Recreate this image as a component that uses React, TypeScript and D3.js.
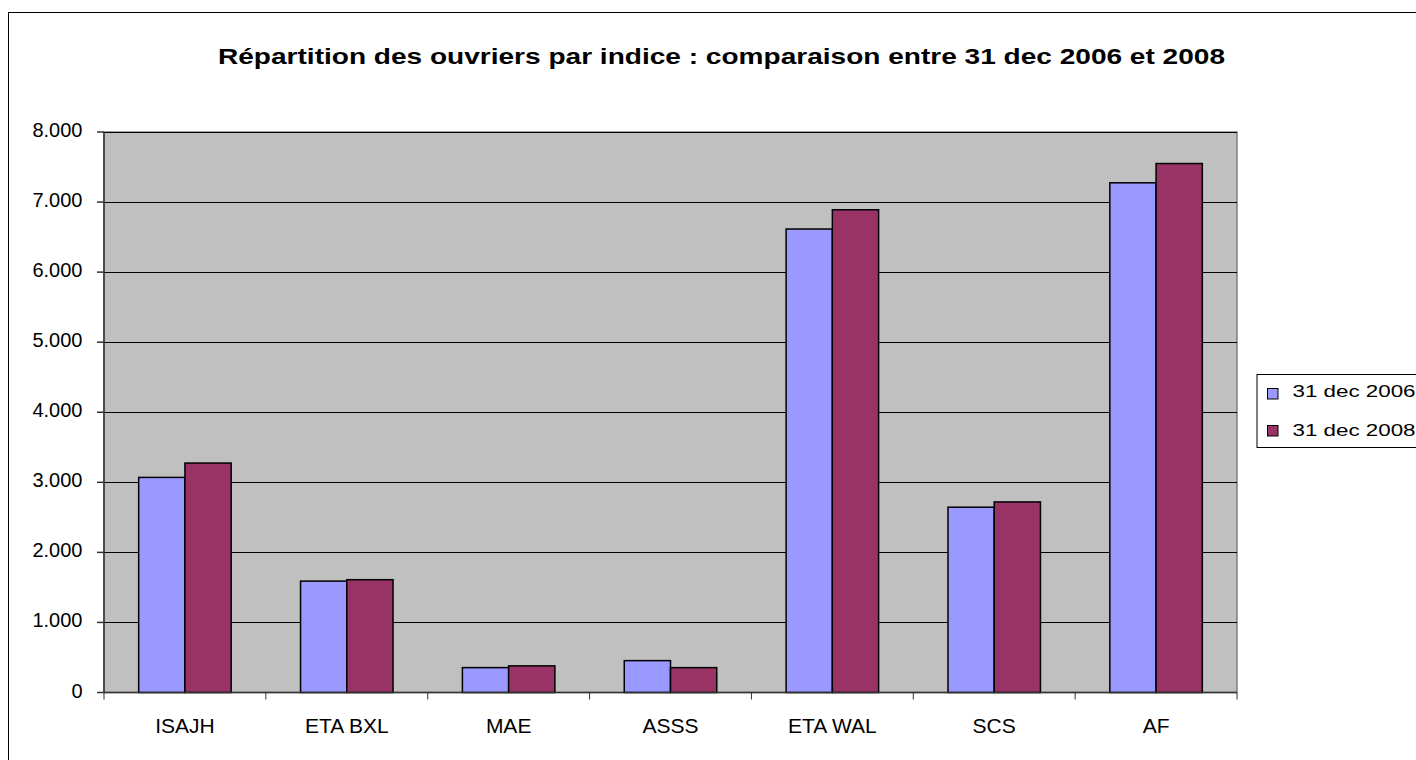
import React from "react";
import * as d3 from "d3";

const categories = ["ISAJH", "ETA BXL", "MAE", "ASSS", "ETA WAL", "SCS", "AF"];
const seriesNames = ["31 dec 2006", "31 dec 2008"];
const values2006 = [3070, 1590, 355, 455, 6615, 2645, 7275];
const values2008 = [3275, 1610, 380, 355, 6890, 2720, 7550];
const yTicks = [0, 1000, 2000, 3000, 4000, 5000, 6000, 7000, 8000];
const colors = ["#9999FF", "#993366"];

const fmt = (v: number) => (v === 0 ? "0" : d3.format(",.3f")(v / 1000).replace(",", ""));

export default function App() {
  const plot = { left: 104, top: 132, right: 1237, bottom: 692.5 };
  const font = "'Liberation Sans', Arial, sans-serif";

  const x = d3.scaleBand().domain(categories).range([plot.left, plot.right]);
  const y = d3.scaleLinear().domain([0, 8000]).range([plot.bottom, plot.top]);
  // gap width 150% like excel
  const barW = x.bandwidth() / 3.5;
  const series = [values2006, values2008];

  return (
    <svg width={1416} height={760} style={{ position: "absolute", left: 0, top: 0, fontFamily: font }}>
      <rect x={0} y={0} width={1416} height={760} fill="#fff" />
      <rect x={8.5} y={12.5} width={1426} height={760} fill="#fff" stroke="#000" strokeWidth={1} />
      <text x={721.5} y={64} textAnchor="middle" fontSize={22} fontWeight="bold"
        textLength={1007} lengthAdjust="spacingAndGlyphs">
        Répartition des ouvriers par indice : comparaison entre 31 dec 2006 et 2008
      </text>

      <rect x={plot.left} y={plot.top} width={plot.right - plot.left} height={plot.bottom - plot.top}
        fill="#C0C0C0" stroke="#808080" strokeWidth={1.5} />

      {yTicks.slice(1).map(t => (
        <line key={t} x1={plot.left} x2={plot.right} y1={Math.round(y(t)) + 0.5} y2={Math.round(y(t)) + 0.5}
          stroke="#000" strokeWidth={1} />
      ))}

      {categories.map((c, i) =>
        series.map((s, j) => {
          const x0 = (x(c) as number) + barW * 0.75 + j * barW;
          return (
            <rect key={c + j} x={x0} y={y(s[i])} width={barW} height={plot.bottom - y(s[i])}
              fill={colors[j]} stroke="#000" strokeWidth={1.5} />
          );
        })
      )}

      {/* y axis */}
      <line x1={plot.left} x2={plot.left} y1={plot.top} y2={plot.bottom} stroke="#333" strokeWidth={1.5} />
      {yTicks.map(t => (
        <g key={t}>
          <line x1={plot.left - 7} x2={plot.left} y1={y(t)} y2={y(t)} stroke="#333" strokeWidth={1.5} />
          <text x={82.5} y={y(t) + 5} textAnchor="end" fontSize={20}>{fmt(t)}</text>
        </g>
      ))}

      {/* x axis */}
      <line x1={plot.left} x2={plot.right} y1={plot.bottom} y2={plot.bottom} stroke="#333" strokeWidth={1.5} />
      {[...categories.map(c => x(c) as number), plot.right].map((p, i) => (
        <line key={i} x1={p} x2={p} y1={plot.bottom} y2={plot.bottom + 7} stroke="#333" strokeWidth={1} />
      ))}
      {categories.map(c => (
        <text key={c} x={(x(c) as number) + x.bandwidth() / 2} y={733} textAnchor="middle" fontSize={21}>{c}</text>
      ))}

      {/* legend */}
      <rect x={1257} y={374.5} width={200} height={73} fill="#fff" stroke="#000" strokeWidth={1} />
      {seriesNames.map((n, i) => (
        <g key={n}>
          <rect x={1267.5} y={388.5 + i * 37} width={10.5} height={10.5} fill={colors[i]} stroke="#000" strokeWidth={1} />
          <text x={1292.5} y={397 + i * 38.5} fontSize={17} textLength={123} lengthAdjust="spacingAndGlyphs">{n}</text>
        </g>
      ))}
    </svg>
  );
}
